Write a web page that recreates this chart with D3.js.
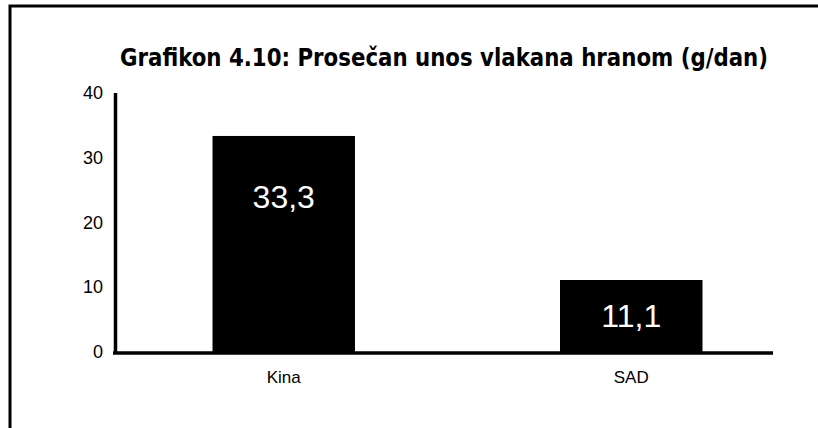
<!DOCTYPE html>
<html>
<head>
<meta charset="utf-8">
<script src="https://cdn.jsdelivr.net/npm/d3@7"></script>
<style>
  body { margin: 0; background: #fff; }
  svg { display: block; }
</style>
</head>
<body>
<script>

var width = 818,
  height = 428;

var title = "Grafikon 4.10: Prosečan unos vlakana hranom (g/dan)";
var categories = ["Kina", "SAD"];
var values = [33.3, 11.1];
var valueLabels = ["33,3", "11,1"];
var yTicks = [0, 10, 20, 30, 40];

var svg = d3.select("body").append("svg")
  .attr("width", width)
  .attr("height", height);

// frame: top and left edges only
svg.append("path")
  .attr("d", "M10,428 V6 H818")
  .attr("fill", "none")
  .attr("stroke", "#000")
  .attr("stroke-width", 3);

svg.append("text")
  .attr("x", 444)
  .attr("y", 66)
  .attr("text-anchor", "middle")
  .attr("textLength", 648)
  .attr("lengthAdjust", "spacingAndGlyphs")
  .style("font-family", "'DejaVu Sans', sans-serif")
  .style("font-stretch", "condensed")
  .style("font-weight", "bold")
  .style("font-size", "25px")
  .text(title);

var y = d3.scaleLinear().domain([0, 40]).range([352, 92.5]);
var x = d3.scaleBand().domain(categories).range([110, 805])
  .paddingInner(0.59).paddingOuter(0.295);

// bars
svg.selectAll("rect.bar").data(values).enter().append("rect")
  .attr("class", "bar")
  .attr("x", function(d, i){ return x(categories[i]); })
  .attr("y", function(d){ return y(d); })
  .attr("width", x.bandwidth())
  .attr("height", function(d){ return y(0) - y(d); })
  .attr("fill", "#000");

// value labels inside the bars
svg.selectAll("text.val").data(values).enter().append("text")
  .attr("class", "val")
  .attr("x", function(d, i){ return x(categories[i]) + x.bandwidth() / 2; })
  .attr("y", function(d){ return Math.min((y(d) + y(0)) / 2, y(d) + 61) + 11; })
  .attr("text-anchor", "middle")
  .attr("fill", "#fff")
  .style("font-family", "'Liberation Sans', Arial, sans-serif")
  .style("font-size", "32px")
  .text(function(d, i){ return valueLabels[i]; });

// y axis
var yAxis = d3.axisLeft(y).tickValues(yTicks).tickSize(0).tickPadding(12);
var gy = svg.append("g").attr("transform", "translate(115,0)").call(yAxis);
gy.select(".domain").attr("stroke-width", 3.5);
gy.selectAll("text")
  .style("font-family", "'Liberation Sans', Arial, sans-serif")
  .style("font-size", "18px")
  .attr("fill", "#000");

// x axis
var xAxis = d3.axisBottom(x).tickSize(0).tickPadding(18);
var gx = svg.append("g").attr("transform", "translate(0,353)").call(xAxis);
gx.select(".domain").attr("d", "M113,0H773").attr("stroke-width", 3.5);
gx.selectAll("text")
  .style("font-family", "'Liberation Sans', Arial, sans-serif")
  .style("font-size", "17px")
  .attr("fill", "#000");

</script>
</body>
</html>
